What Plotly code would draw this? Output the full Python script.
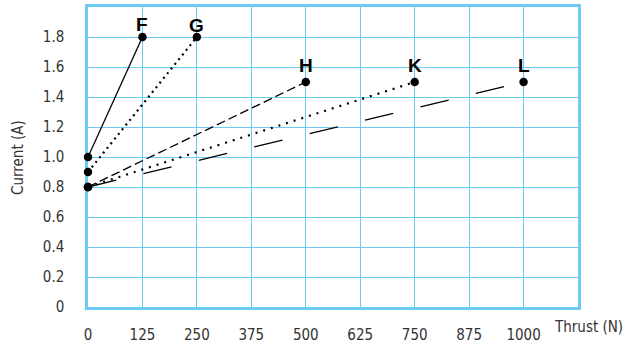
import plotly.graph_objects as go

series_names = ["F", "G", "H", "K", "L"]
start_thrust = [0, 0, 0, 0, 0]
start_current = [1.0, 0.9, 0.8, 0.8, 0.8]
end_thrust = [125, 250, 500, 750, 1000]
end_current = [1.8, 1.8, 1.5, 1.5, 1.5]

# styling
dash_styles = ["solid", "2px,4px", "9px,4px", "2px,6px", "29px,28px"]
label_offsets = [13, 12, 17, 17, 17]

x_ticks = [0, 125, 250, 375, 500, 625, 750, 875, 1000]
y_ticks = [0, 0.2, 0.4, 0.6, 0.8, 1.0, 1.2, 1.4, 1.6, 1.8]
y_tick_text = ["0", "0.2", "0.4", "0.6", "0.8", "1.0", "1.2", "1.4", "1.6", "1.8"]

grid = "#6CCBF2"
tick_font = dict(family="Liberation Sans Narrow, DejaVu Sans Condensed, Roboto, sans-serif", size=15, color="#333333")

fig = go.Figure()
for name, x0, y0, x1, y1, d, off in zip(series_names, start_thrust, start_current, end_thrust,
                                         end_current, dash_styles, label_offsets):
    w = 2.2 if d.startswith("2px") else 1.3
    fig.add_trace(go.Scatter(
        x=[x0, x1], y=[y0, y1], mode="lines",
        line=dict(color="black", width=w, dash=d),
        showlegend=False, hoverinfo="skip"))
    fig.add_trace(go.Scatter(
        x=[x0, x1], y=[y0, y1], mode="markers", cliponaxis=False,
        marker=dict(color="black", size=8.5),
        showlegend=False, hoverinfo="skip"))
    fig.add_annotation(x=x1, y=y1, text="<b>%s</b>" % name, showarrow=False,
                       yshift=off, font=dict(family="Liberation Sans, Arial, sans-serif", size=19, color="black"))

fig.add_annotation(xref="paper", yref="paper", x=-0.143, y=0.5, text="Current (A)",
                   textangle=-90, showarrow=False, font=tick_font, xanchor="center", yanchor="middle")
fig.add_annotation(xref="paper", yref="paper", x=1.0, y=0, yshift=-20, xshift=-26, text="Thrust (N)",
                   showarrow=False, font=tick_font, xanchor="left", yanchor="middle")

fig.update_layout(
    width=630, height=343,
    margin=dict(l=88, r=52, t=7, b=36),
    plot_bgcolor="white", paper_bgcolor="white",
    xaxis=dict(range=[0, 1125], tickvals=x_ticks, showgrid=True, gridcolor=grid, gridwidth=1.3,
               zeroline=False, showline=True, linecolor=grid, linewidth=2.5, mirror=True,
               tickfont=tick_font, ticks="", ticklabelstandoff=12, automargin=False,
               layer="below traces"),
    yaxis=dict(range=[0, 2.0], tickvals=y_ticks, ticktext=y_tick_text, showgrid=True, gridcolor=grid,
               gridwidth=1.3, zeroline=False, showline=True, linecolor=grid, linewidth=2.5, mirror=True,
               tickfont=tick_font, ticks="", ticklabelstandoff=18, automargin=False,
               layer="below traces"),
)

fig.write_html("out.html", config={"displayModeBar": False},
               post_script="document.body.style.margin='0';document.body.style.overflow='hidden';")
